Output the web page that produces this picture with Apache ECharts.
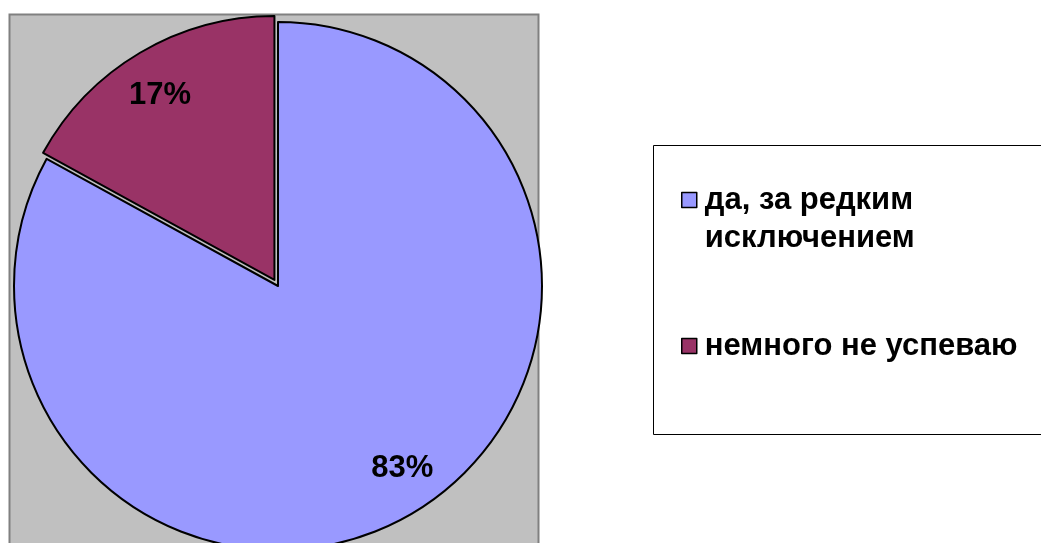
<!DOCTYPE html>
<html>
<head>
<meta charset="utf-8">
<script src="https://cdn.jsdelivr.net/npm/echarts@6/dist/echarts.min.js"></script>
<style>
html,body{margin:0;padding:0;background:#fff;}
#chart{width:1041px;height:543px;}
</style>
</head>
<body>
<div id="chart"></div>
<script>
// ---- data ----
const categories = ['да, за редким исключением', 'немного не успеваю'];
const values = [83, 17];
const colors = ['#9999FF', '#993366'];
const explodedIndex = 1;

const chart = echarts.init(document.getElementById('chart'), null, {renderer: 'canvas'});

const center = [278, 286];
const radius = 264;
const labelOffsets = [[12, -8], [-2, 6]];

const mainData = categories.map((name, i) => ({
  name: name,
  value: values[i],
  selected: i === explodedIndex,
  itemStyle: {color: colors[i]}
}));
const labelData = categories.map((name, i) => ({
  name: name,
  value: values[i],
  selected: i === explodedIndex,
  label: {offset: labelOffsets[i]},
  select: {label: {offset: labelOffsets[i]}}
}));

chart.setOption({
  animation: false,
  backgroundColor: '#ffffff',
  graphic: [
    {type: 'rect', z: -10, shape: {x: 9.5, y: 14.5, width: 529, height: 560},
     style: {fill: '#C0C0C0', stroke: '#808080', lineWidth: 2}},
    {type: 'rect', z: -10, shape: {x: 653.5, y: 145.5, width: 420, height: 289},
     style: {fill: '#ffffff', stroke: '#000000', lineWidth: 1}}
  ],
  legend: {
    orient: 'vertical',
    left: 681,
    top: 143,
    padding: 0,
    itemWidth: 15,
    itemHeight: 15,
    itemGap: 70,
    icon: 'rect',
    selectedMode: false,
    itemStyle: {borderColor: '#000', borderWidth: 1.5},
    data: categories,
    formatter: function (name) {
      if (name === categories[0]) return ' \nда, за редким\nисключением';
      return name;
    },
    textStyle: {
      fontFamily: 'Liberation Sans',
      fontWeight: 'bold',
      fontSize: 31,
      lineHeight: 38,
      color: '#000',
      padding: [0, 0, 0, 3]
    }
  },
  series: [
    {
      type: 'pie',
      center: center,
      radius: radius,
      startAngle: 90,
      clockwise: true,
      selectedMode: 'single',
      selectedOffset: 7,
      avoidLabelOverlap: false,
      silent: true,
      label: {show: false},
      labelLine: {show: false},
      itemStyle: {borderColor: '#000', borderWidth: 2},
      data: mainData
    },
    {
      type: 'pie',
      center: center,
      radius: radius * 1.65,
      startAngle: 90,
      clockwise: true,
      selectedMode: 'single',
      selectedOffset: 7,
      avoidLabelOverlap: false,
      silent: true,
      itemStyle: {color: 'rgba(0,0,0,0)', borderWidth: 0},
      label: {
        show: true,
        position: 'inside',
        formatter: '{c}%',
        fontFamily: 'Liberation Sans',
        fontWeight: 'bold',
        fontSize: 31,
        color: '#000'
      },
      labelLine: {show: false},
      data: labelData
    }
  ]
});
</script>
</body>
</html>
